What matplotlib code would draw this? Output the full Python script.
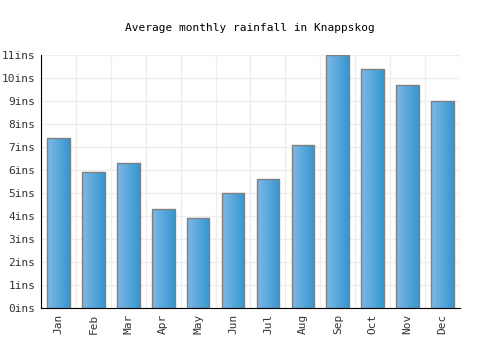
import numpy as np
import matplotlib.pyplot as plt
from matplotlib.colors import LinearSegmentedColormap

months = ['Jan', 'Feb', 'Mar', 'Apr', 'May', 'Jun', 'Jul', 'Aug', 'Sep', 'Oct', 'Nov', 'Dec']
rainfall = [7.4, 5.9, 6.3, 4.3, 3.9, 5.0, 5.6, 7.1, 11.0, 10.4, 9.7, 9.0]
yticks = list(range(0, 12))
ylabels = ['%dins' % v for v in yticks]

plt.rcParams['font.family'] = ['DejaVu Sans Mono']

fig = plt.figure(figsize=(5, 3.5), dpi=100)
ax = fig.add_axes([0.082, 0.12, 0.838, 0.723])

x = np.arange(len(months))
width = 0.65
bars = ax.bar(x, rainfall, width=width, color='none', edgecolor='#808080', linewidth=1.0, zorder=3)

# gradient fill for each bar
cmap = LinearSegmentedColormap.from_list('blu', ['#7db9e8', '#3596cf'])
grad = np.linspace(0, 1, 64).reshape(1, -1)
for b in bars:
    x0, y0 = b.get_x(), b.get_y()
    im = ax.imshow(grad, cmap=cmap, aspect='auto', extent=[x0, x0 + b.get_width(), y0, y0 + b.get_height()],
                   zorder=2, interpolation='bicubic')
    im.set_clip_path(b)

ax.set_xlim(-0.5, len(months) - 0.5)
ax.set_ylim(0, 11)
ax.set_yticks(yticks)
ax.set_yticklabels(ylabels, fontsize=8, color='#333333')
ax.set_xticks(x)
ax.set_xticklabels(months, rotation=90, fontsize=8, color='#333333')
ax.set_xticks(np.arange(-0.5, len(months), 1), minor=True)
ax.tick_params(axis='both', length=0, pad=4)
ax.tick_params(axis='x', which='minor', length=0)
ax.grid(True, axis='y', color='#eeeeee', linewidth=1, zorder=0)
ax.grid(True, axis='x', which='minor', color='#eeeeee', linewidth=1, zorder=0)
ax.spines['top'].set_visible(False)
ax.spines['right'].set_visible(False)
ax.spines['left'].set_color('black')
ax.spines['bottom'].set_color('black')
ax.set_axisbelow(True)

fig.text(0.5, 0.92, 'Average monthly rainfall in Knappskog', ha='center', va='center', fontsize=8)

fig.savefig('out.png', dpi=100)
